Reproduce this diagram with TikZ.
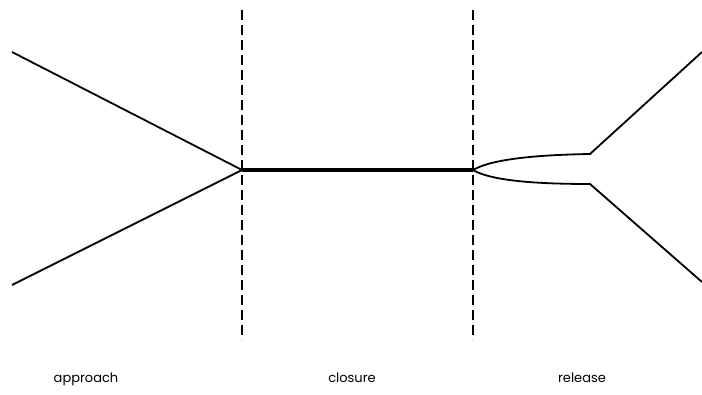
\documentclass[tikz,border=0pt]{standalone}
\usepackage{fontspec}
\setmainfont{Poppins}
\usetikzlibrary{positioning, calc}

\begin{document}
\begin{tikzpicture}[
  x=1pt, y=-1pt,
  boundary/.style={dashed, dash pattern=on 10pt off 5pt, line width=1.2pt},
  arm/.style={line width=1.8pt},
  bond/.style={line width=3.4pt},
  phase/.style={font=\fontsize{13}{15}\selectfont, anchor=base}
]
  \useasboundingbox (0,0) rectangle (702,395);

  % Phase boundaries
  \coordinate (b1top) at (242,10);
  \coordinate (b1bot) at (242,340);
  \coordinate (b2top) at (473,10);
  \coordinate (b2bot) at (473,340);
  \draw[boundary] (b1top) -- (b1bot);
  \draw[boundary] (b2top) -- (b2bot);

  % Approach: two arms meet
  \coordinate (meet) at (242,170);
  \coordinate (upin) at (12,52);
  \coordinate (lowin) at (12,285);
  \draw[arm] (upin) -- (meet);
  \draw[arm] (lowin) -- (meet);

  % Closure
  \coordinate (split) at (473,170);
  \draw[bond] (meet) -- (split);

  % Release: arms open again
  \coordinate (upkink) at (590,154);
  \coordinate (lowkink) at (590,184);
  \coordinate (upout) at (702,52);
  \coordinate (lowout) at (702,282);
  \draw[arm] (split) .. controls (490,160) and (530,155) .. (upkink) -- (upout);
  \draw[arm] (split) .. controls (490,180) and (530,184) .. (lowkink) -- (lowout);

  % Labels
  \node[phase] (approach) at (86,383) {approach};
  \node[phase] (closure) at (352,383) {closure};
  \node[phase] (release) at (582,383) {release};
\end{tikzpicture}
\end{document}
